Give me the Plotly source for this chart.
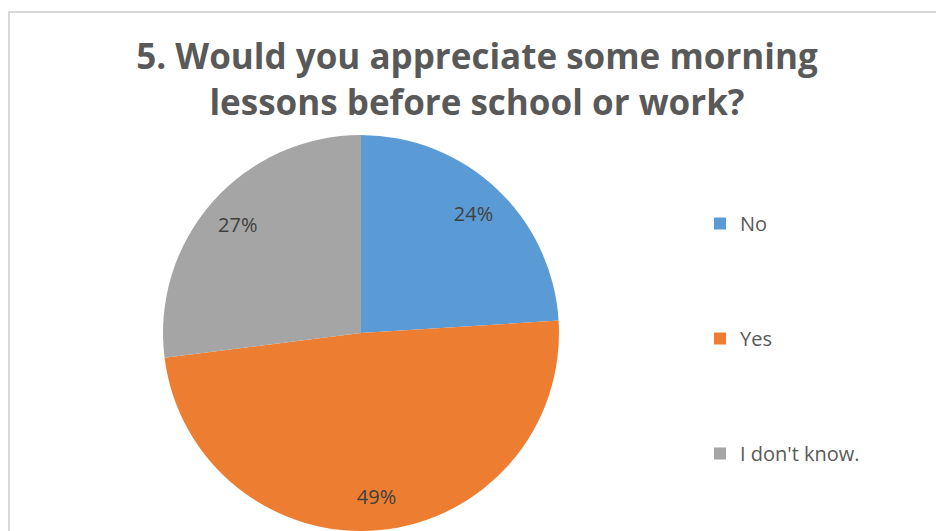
import plotly.graph_objects as go

# Survey answers
labels = ["No", "Yes", "I don't know."]
shares = [24, 49, 27]
colors = ["#5b9bd5", "#ed7d31", "#a5a5a5"]

title_text = "5. Would you appreciate some morning<br>lessons before school or work?"

W, H = 936, 531
cx, r = 361, 198  # pie centre x and radius in pixels
pie_domain = dict(x=[(cx - r) / W, (cx + r) / W], y=[0, 2 * r / H])

fig = go.Figure()

# Filled pie
fig.add_trace(go.Pie(
    labels=labels,
    values=shares,
    sort=False,
    direction="clockwise",
    rotation=0,
    marker=dict(colors=colors, line=dict(color="white", width=0)),
    textinfo="none",
    showlegend=False,
    hoverinfo="label+percent",
    domain=pie_domain,
))

# Transparent ring on top carrying the percentage labels out towards the rim
fig.add_trace(go.Pie(
    labels=labels,
    values=shares,
    sort=False,
    direction="clockwise",
    rotation=0,
    hole=0.66,
    marker=dict(colors=["rgba(0,0,0,0)"] * len(labels), line=dict(width=0)),
    texttemplate="%{percent:.0%}",
    textposition="inside",
    insidetextorientation="horizontal",
    textfont=dict(family="Open Sans", size=20, color="#404040"),
    showlegend=False,
    hoverinfo="skip",
    domain=pie_domain,
))

# Legend entries, one group each so they can be spread out vertically
for i, (lab, col) in enumerate(zip(labels, colors)):
    fig.add_trace(go.Scatter(
        x=[None], y=[None], mode="markers", name=lab,
        legendgroup=f"g{i}",
        marker=dict(symbol="square", size=12, color=col),
        hoverinfo="skip",
    ))

fig.update_layout(
    width=W, height=H,
    margin=dict(l=0, r=0, t=0, b=0),
    paper_bgcolor="white",
    plot_bgcolor="white",
    xaxis=dict(visible=False),
    yaxis=dict(visible=False),
    title=dict(
        text=title_text,
        x=477 / W, xanchor="center",
        y=1 - 69 / H, yanchor="top",
        font=dict(family="Open Sans", size=35, color="#595959", weight="bold"),
    ),
    legend=dict(
        x=700 / W, xanchor="left",
        y=1 - 204 / H, yanchor="top",
        font=dict(family="Open Sans", size=20, color="#595959"),
        tracegroupgap=86,
        bgcolor="rgba(0,0,0,0)",
    ),
    shapes=[dict(
        type="rect", xref="paper", yref="paper",
        x0=9 / W, x1=1.05, y0=-0.05, y1=1 - 12 / H,
        line=dict(color="#d9d9d9", width=2),
        fillcolor="rgba(0,0,0,0)", layer="below",
    )],
)

fig.write_html("out.html")
